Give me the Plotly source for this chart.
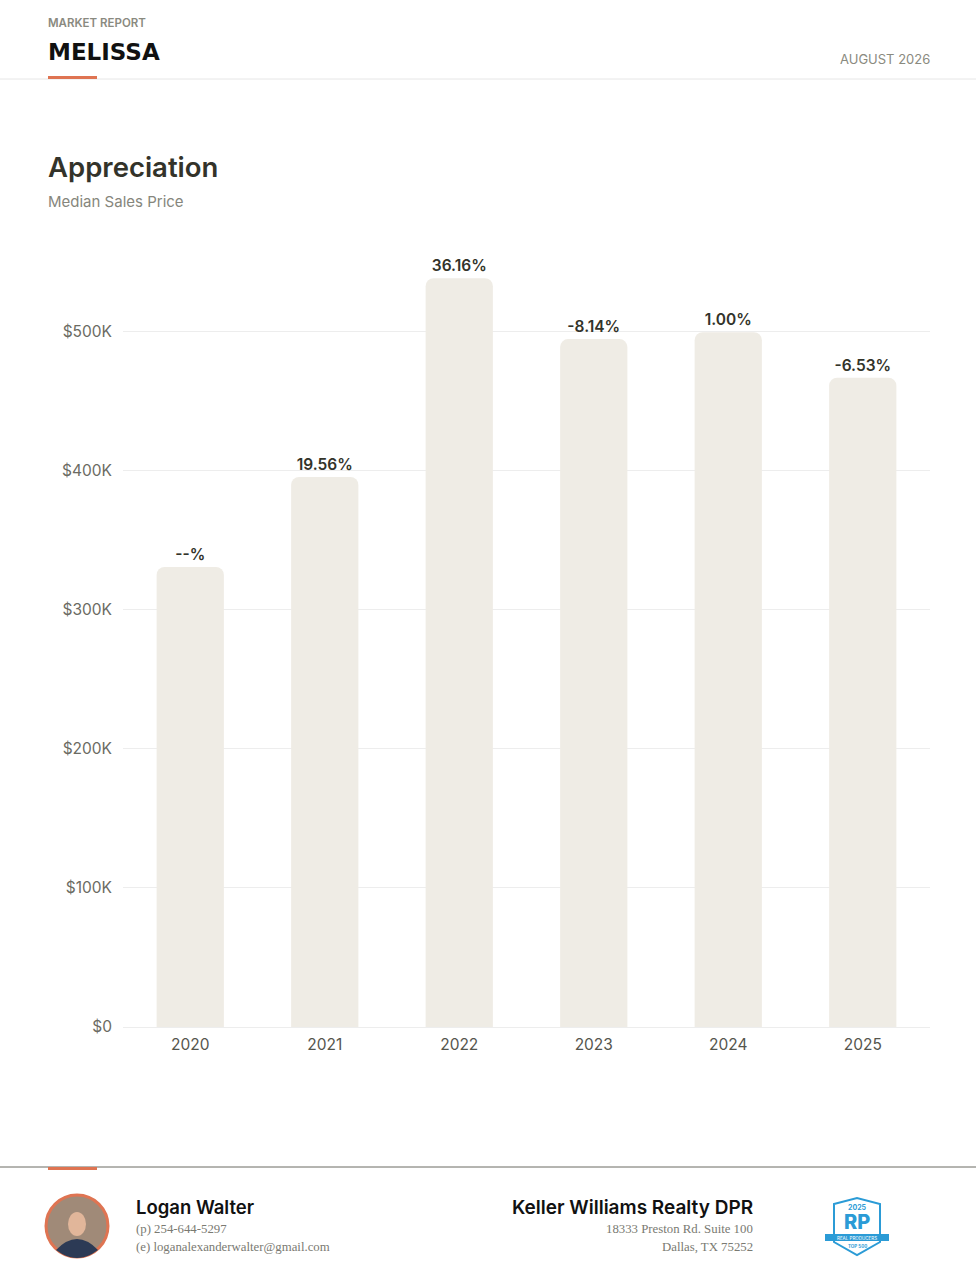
import plotly.graph_objects as go

# 数据
years = ['2020', '2021', '2022', '2023', '2024', '2025']
median_price = [330600, 395300, 538200, 494400, 499300, 466700]
pct_labels = ['--%', '19.56%', '36.16%', '-8.14%', '1.00%', '-6.53%']
tick_vals = [0, 100000, 200000, 300000, 400000, 500000]
tick_text = ['$0', '$100K', '$200K', '$300K', '$400K', '$500K']

W, H = 976, 1268
L, R, T, B = 123, 46, 250, 241
PW, PH = W - L - R, H - T - B

ORANGE = '#df7452'
BAR = '#efece5'
DARK = '#33332a'
GREY = '#86867c'
SANS = 'Inter, Lato, sans-serif'
SERIF = 'Liberation Serif, DejaVu Serif, serif'


def px_x(x):
    return (x - L) / PW


def px_y(y):
    return (H - B - y) / PH


fig = go.Figure()
fig.add_trace(go.Bar(
    x=years,
    y=median_price,
    text=pct_labels,
    textposition='outside',
    textfont=dict(family=SANS, size=15.5, color=DARK, weight=600),
    cliponaxis=False,
    marker=dict(color=BAR, cornerradius=8, line=dict(width=0)),
    hoverinfo='skip',
))

fig.update_layout(
    width=W, height=H,
    margin=dict(l=L, r=R, t=T, b=B),
    paper_bgcolor='white', plot_bgcolor='white',
    showlegend=False,
    bargap=0.5,
    font=dict(family=SANS),
)
fig.update_yaxes(range=[0, PH / 1.3914 * 1000], tickvals=tick_vals, ticktext=tick_text,
                 showgrid=True, gridcolor='#ededed', gridwidth=1, zeroline=False,
                 showline=False, ticks='', ticklabelstandoff=10,
                 tickfont=dict(family=SANS, size=15.5, color='#6b6b63'))
fig.update_xaxes(showgrid=False, showline=True, linecolor='#ededed', linewidth=1,
                 ticks='', ticklabelstandoff=3,
                 tickfont=dict(family=SANS, size=15.5, color='#55554d'))

shapes = []
# header
shapes.append(dict(type='line', xref='paper', yref='paper', x0=px_x(0), x1=px_x(W),
                   y0=px_y(79), y1=px_y(79), line=dict(color='#e6e6e6', width=1)))
shapes.append(dict(type='rect', xref='paper', yref='paper', x0=px_x(48), x1=px_x(97),
                   y0=px_y(79), y1=px_y(76), fillcolor=ORANGE, line=dict(width=0)))
# footer
shapes.append(dict(type='line', xref='paper', yref='paper', x0=px_x(0), x1=px_x(W),
                   y0=px_y(1167), y1=px_y(1167), line=dict(color='#6b6b63', width=1)))
shapes.append(dict(type='rect', xref='paper', yref='paper', x0=px_x(48), x1=px_x(97),
                   y0=px_y(1170), y1=px_y(1167), fillcolor=ORANGE, line=dict(width=0)))
# photo placeholder
shapes.append(dict(type='circle', xref='paper', yref='paper', x0=px_x(46), x1=px_x(108),
                   y0=px_y(1257), y1=px_y(1195), fillcolor='#a08a78',
                   line=dict(color=ORANGE, width=3)))
shapes.append(dict(type='path', xref='paper', yref='paper',
                   path='M {} {} Q {} {} {} {} L {} {} Q {} {} {} {} Z'.format(
                       px_x(56), px_y(1250), px_x(77), px_y(1228), px_x(98), px_y(1250),
                       px_x(92), px_y(1254), px_x(77), px_y(1262), px_x(62), px_y(1254)),
                   fillcolor='#2c3a55', line=dict(width=0)))
shapes.append(dict(type='circle', xref='paper', yref='paper', x0=px_x(68), x1=px_x(86),
                   y0=px_y(1236), y1=px_y(1212), fillcolor='#e1b69a', line=dict(width=0)))
# logo
shapes.append(dict(type='path', xref='paper', yref='paper',
                   path='M {} {} L {} {} L {} {} L {} {} L {} {} L {} {} Z'.format(
                       px_x(834), px_y(1204), px_x(857), px_y(1198), px_x(880), px_y(1204),
                       px_x(880), px_y(1242), px_x(857), px_y(1255), px_x(834), px_y(1242)),
                   fillcolor='white', line=dict(color='#2b9bd6', width=2)))
shapes.append(dict(type='rect', xref='paper', yref='paper', x0=px_x(825), x1=px_x(889),
                   y0=px_y(1241), y1=px_y(1234), fillcolor='#2b9bd6', line=dict(width=0)))
fig.update_layout(shapes=shapes)


def note(text, x, y, size, color, anchor='left', family=SANS, weight=400):
    fig.add_annotation(text=text, xref='paper', yref='paper', x=px_x(x), y=px_y(y),
                       xanchor=anchor, yanchor='middle', showarrow=False,
                       font=dict(family=family, size=size, color=color, weight=weight))


note('MARKET REPORT', 46, 23, 11.5, '#8a8a80', weight=600)
note('MELISSA', 46, 52, 23, '#111111', family='DejaVu Sans, sans-serif', weight=700)
note('AUGUST 2026', 932, 59, 13, '#8a8a80', anchor='right')
note('Appreciation', 46, 167, 27.5, DARK, weight=600)
note('Median Sales Price', 46, 201, 15, GREY)

note('Logan Walter', 134, 1207, 18.5, '#111111', weight=600)
note('(p) 254-644-5297', 134, 1229, 12.8, '#7a7a72', family=SERIF)
note('(e) loganalexanderwalter@gmail.com', 134, 1247, 12.8, '#7a7a72', family=SERIF)
note('Keller Williams Realty DPR', 755, 1207, 19, '#111111', anchor='right', weight=600)
note('18333 Preston Rd. Suite 100', 755, 1229, 12.8, '#7a7a72', anchor='right', family=SERIF)
note('Dallas, TX 75252', 755, 1247, 12.8, '#7a7a72', anchor='right', family=SERIF)

note('2025', 857, 1207, 7, '#2b9bd6', anchor='center', weight=700)
note('RP', 857, 1222, 20, '#2b9bd6', anchor='center', weight=800)
note('REAL PRODUCERS', 857, 1238, 4.5, 'white', anchor='center')
note('TOP 500', 857, 1246, 4.5, '#2b9bd6', anchor='center', weight=700)

fig.write_html('out.html', config={'displayModeBar': False},
               post_script="document.body.style.margin='0';document.body.style.overflow='hidden';")
